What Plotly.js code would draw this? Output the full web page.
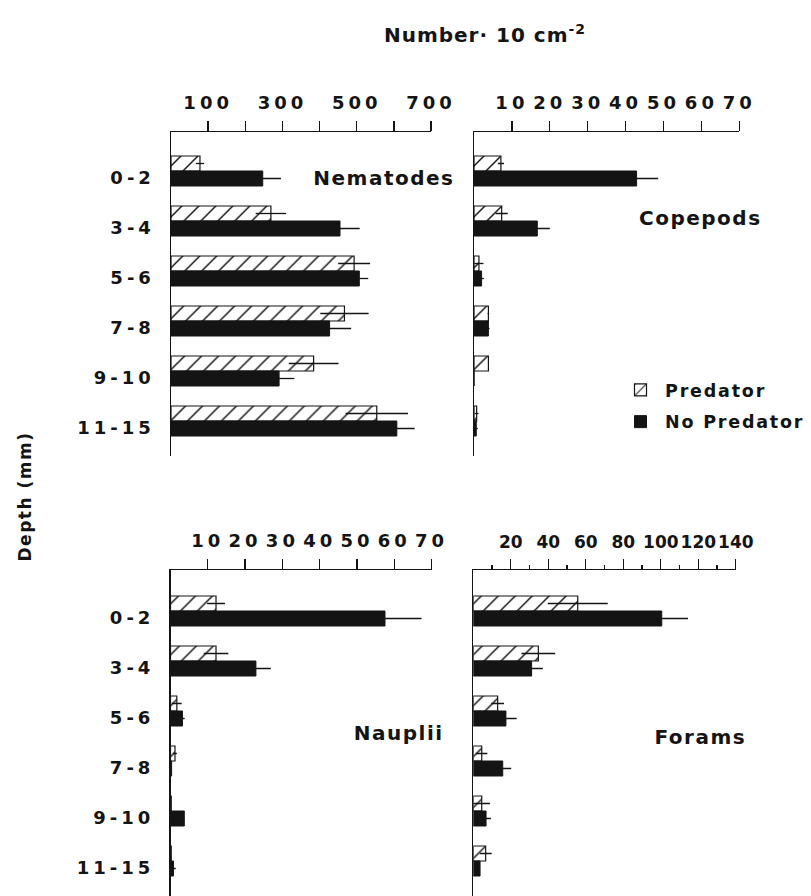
<!DOCTYPE html>
<html><head><meta charset="utf-8">
<script src="https://cdn.plot.ly/plotly-3.0.1.min.js"></script>
<style>
html,body{margin:0;padding:0;background:#fff;}
#chart{width:811px;height:896px;}
#chart .xaxislayer-above text, #chart .yaxislayer-above text{letter-spacing:4px;}
#chart .x4tick text{letter-spacing:0px;}
#chart .legendtext{letter-spacing:1.8px;}
#chart .legend *{clip-path:none !important;}
#chart .annotation-text{letter-spacing:1.5px;}
#chart .gtitle{letter-spacing:1px;}
</style></head><body><div id="chart"></div>
<script>
const depths = ['0-2','3-4','5-6','7-8','9-10','11-15'];

const nemPred      = [78, 269, 493, 467, 384, 554];
const nemPredErr   = [11, 41, 43, 65, 67, 84];
const nemNoPred    = [247, 455, 507, 427, 291, 608];
const nemNoPredErr = [49, 53, 24, 58, 41, 48];

const copPred      = [7.1, 7.3, 1.3, 3.8, 3.8, 0.7];
const copPredErr   = [0.8, 1.6, 1.2, 0.2, 0, 0.5];
const copNoPred    = [42.9, 16.7, 2.0, 3.8, 0, 0.6];
const copNoPredErr = [5.7, 3.3, 0.6, 0.3, 0, 0.4];

const naupPred      = [12.2, 12.2, 1.7, 1.2, 0.2, 0.2];
const naupPredErr   = [2.4, 3.3, 1.3, 0.5, 0, 0];
const naupNoPred    = [57.5, 22.9, 3.2, 0.3, 3.7, 0.8];
const naupNoPredErr = [9.8, 4.0, 0.6, 0, 0, 0.6];

const forPred      = [55.7, 34.7, 13, 4.5, 4.5, 6.6];
const forPredErr   = [16, 9, 3.4, 3, 4.4, 3.2];
const forNoPred    = [100.5, 31.1, 17.4, 15.7, 6.8, 3.6];
const forNoPredErr = [14, 6, 5.7, 4.5, 2.6, 0];

const nemTicks = [100,300,500,700];
const nemMinor = [200,400,600];
const smallTicks = [10,20,30,40,50,60,70];
const forTicks = [20,40,60,80,100,120,140];
const forMinor = [10,30,50,70,90,110,130];

const BLACK = '#141414';
const FONT = 'DejaVu Sans, Verdana, sans-serif';

function predTrace(x, err, xa, ya, show){
  return {type:'bar', orientation:'h', y:depths, x:x, xaxis:xa, yaxis:ya,
    name:'Predator', legendgroup:'pred', showlegend:show,
    marker:{color:'#ffffff', line:{color:BLACK, width:1.2},
      pattern:{shape:'/', fgcolor:BLACK, bgcolor:'#ffffff', size:12, solidity:0.12}},
    error_x:{type:'data', array:err, symmetric:true, color:BLACK, thickness:1.3, width:0},
    hoverinfo:'x'};
}
function noPredTrace(x, err, xa, ya, show){
  return {type:'bar', orientation:'h', y:depths, x:x, xaxis:xa, yaxis:ya,
    name:'No Predator', legendgroup:'nopred', showlegend:show,
    marker:{color:BLACK, line:{color:BLACK, width:1}},
    error_x:{type:'data', array:err, symmetric:true, color:BLACK, thickness:1.3, width:0},
    hoverinfo:'x'};
}

const data = [
  predTrace(nemPred, nemPredErr, 'x', 'y', true),
  noPredTrace(nemNoPred, nemNoPredErr, 'x', 'y', true),
  predTrace(copPred, copPredErr, 'x2', 'y2', false),
  noPredTrace(copNoPred, copNoPredErr, 'x2', 'y2', false),
  predTrace(naupPred, naupPredErr, 'x3', 'y3', false),
  noPredTrace(naupNoPred, naupNoPredErr, 'x3', 'y3', false),
  predTrace(forPred, forPredErr, 'x4', 'y4', false),
  noPredTrace(forNoPred, forNoPredErr, 'x4', 'y4', false)
];

const tickFont = {family:FONT, size:18, weight:'bold', color:BLACK};

function xAxis(domain, range, anchor, tickvals, extra){
  const a = {domain:domain, range:range, anchor:anchor, side:'top',
    showgrid:false, zeroline:false, showline:true, linecolor:BLACK, linewidth:1.5,
    ticks:'outside', ticklen:10, tickwidth:1.3, tickcolor:BLACK,
    tickmode:'array', tickvals:tickvals, ticktext:tickvals.map(String), tickangle:0,
    tickfont:tickFont, ticklabelstandoff:4, fixedrange:true};
  return Object.assign(a, extra || {});
}
function yAxis(domain, range, anchor, showLabels){
  return {domain:domain, range:range, anchor:anchor, type:'category',
    showgrid:false, zeroline:false, showline:true, linecolor:BLACK, linewidth:1.5,
    ticks:'', showticklabels:showLabels, tickfont:tickFont,
    ticklabelstandoff:11, ticklabelshift:-7, fixedrange:true};
}

const topDom = [1-456/896, 1-132/896];
const botDom = [0, 1-570/896];

const layout = {
  width:811, height:896,
  margin:{l:0, r:0, t:0, b:0},
  paper_bgcolor:'#ffffff', plot_bgcolor:'rgba(0,0,0,0)',
  barmode:'group', bargap:0.4, bargroupgap:0,
  font:{family:FONT, color:BLACK},
  title:{text:'Number· 10 cm<sup>-2</sup>', x:485/811, xanchor:'center',
    y:1-35/896, yanchor:'middle', font:{family:FONT, size:20, weight:'bold', color:BLACK}},
  xaxis: xAxis([171/811, 431/811], [0,700], 'y', nemTicks,
    {minor:{tickvals:nemMinor, ticks:'outside', ticklen:10, tickwidth:1.3, tickcolor:BLACK}}),
  xaxis2: xAxis([474/811, 739.3/811], [0,70], 'y2', smallTicks),
  xaxis3: xAxis([170.5/811, 431.6/811], [0,70], 'y3', smallTicks),
  xaxis4: xAxis([473.3/811, 735.8/811], [0,140], 'y4', forTicks,
    {tickfont:{family:FONT, size:17, weight:'bold', color:BLACK},
     minor:{tickvals:forMinor, ticks:'outside', ticklen:4, tickwidth:1.2, tickcolor:BLACK}}),
  yaxis: yAxis(topDom, [5.7, -0.78], 'x', true),
  yaxis2: yAxis(topDom, [5.7, -0.78], 'x2', false),
  yaxis3: yAxis(botDom, [5.7, -0.82], 'x3', true),
  yaxis4: yAxis(botDom, [5.7, -0.82], 'x4', false),
  showlegend:true,
  legend:{x:616/811, xanchor:'left', y:1-372/896, yanchor:'top',
    bgcolor:'rgba(0,0,0,0)', borderwidth:0, traceorder:'grouped', tracegroupgap:6,
    itemwidth:39, font:{family:FONT, size:17.5, weight:'bold', color:BLACK}},
  annotations:[
    {text:'Nematodes', x:384/811, y:1-178/896, xref:'paper', yref:'paper', showarrow:false,
      xanchor:'center', yanchor:'middle', font:{family:FONT, size:20, weight:'bold', color:BLACK}},
    {text:'Copepods', x:700/811, y:1-218/896, xref:'paper', yref:'paper', showarrow:false,
      xanchor:'center', yanchor:'middle', font:{family:FONT, size:20, weight:'bold', color:BLACK}},
    {text:'Nauplii', x:398/811, y:1-733/896, xref:'paper', yref:'paper', showarrow:false,
      xanchor:'center', yanchor:'middle', font:{family:FONT, size:20, weight:'bold', color:BLACK}},
    {text:'Forams', x:700/811, y:1-737/896, xref:'paper', yref:'paper', showarrow:false,
      xanchor:'center', yanchor:'middle', font:{family:FONT, size:20, weight:'bold', color:BLACK}},
    {text:'Depth (mm)', x:25/811, y:1-497/896, xref:'paper', yref:'paper', showarrow:false,
      textangle:-90, xanchor:'center', yanchor:'middle', font:{family:FONT, size:17, weight:'bold', color:BLACK}}
  ]
};

Plotly.newPlot('chart', data, layout, {displayModeBar:false, staticPlot:true});
</script></body></html>
